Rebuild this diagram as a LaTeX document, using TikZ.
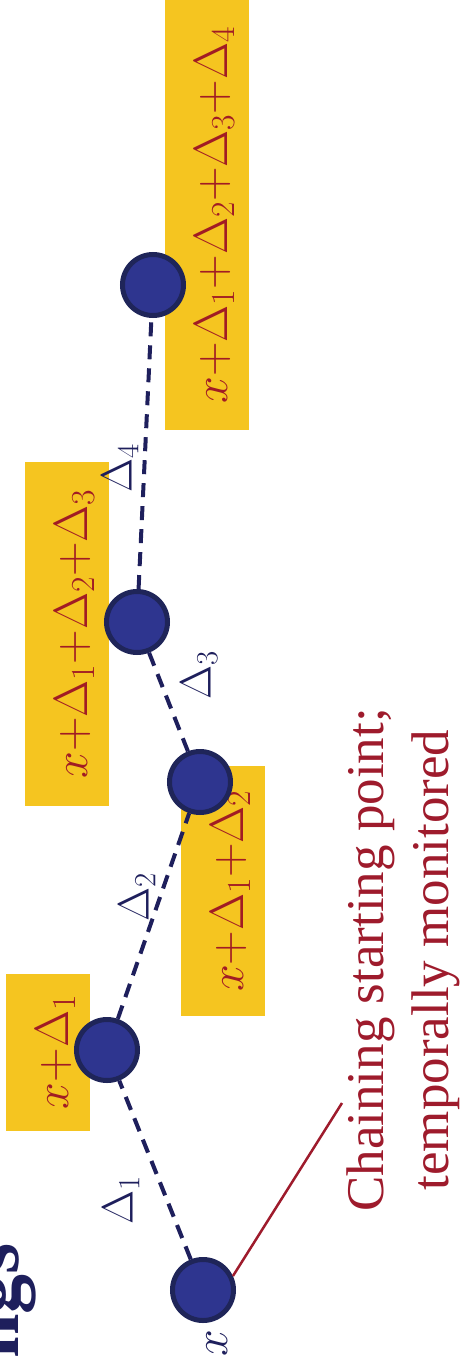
\RequirePackage{fix-cm}
\documentclass[tikz,border=0pt]{standalone}
\usepackage[no-math]{fontspec}
\setmainfont{Liberation Serif}
\definecolor{ybox}{HTML}{F5C520}
\definecolor{rtext}{HTML}{A11C24}
\definecolor{navy}{HTML}{1E1F5C}
\definecolor{dotfill}{HTML}{2E358F}
\definecolor{dotedge}{HTML}{1F2559}
\definecolor{annred}{HTML}{9E1B2C}
\begin{document}
\begin{tikzpicture}[x=1pt,y=-1pt,
  yellowbox/.style={fill=ybox, rotate=90, inner sep=0pt, minimum height=84pt,
    text height=40pt, text depth=0pt, text=rtext, font=\fontsize{48}{48}\selectfont},
  dot/.style={circle, draw=dotedge, fill=dotfill, line width=5pt, minimum size=61pt, inner sep=0pt},
  chain/.style={draw=navy, line width=4pt, dash pattern=on 14pt off 9pt},
  dlabel/.style={rotate=90, text=navy, font=\fontsize{44}{44}\selectfont, inner sep=0pt},
]
\useasboundingbox (0,0) rectangle (461,1367);
\clip (0,0) rectangle (461,1367);

% title fragment
\node[rotate=90, anchor=base east, text=navy, font=\bfseries\fontsize{80}{80}\selectfont, inner sep=0pt] (title) at (18,1243) {ngs};

% yellow value boxes
\node[yellowbox, minimum width=157pt] (b1) at (48,1052) {$x{+}\Delta_1$};
\node[yellowbox, minimum width=250pt] (b2) at (223,891) {$x{+}\Delta_1{+}\Delta_2$};
\node[yellowbox, minimum width=344pt] (b3) at (67,634) {$x{+}\Delta_1{+}\Delta_2{+}\Delta_3$};
\node[yellowbox, minimum width=430pt] (b4) at (207,215) {$x{+}\Delta_1{+}\Delta_2{+}\Delta_3{+}\Delta_4$};

% chain points
\node[dot] (c0) at (203,1290) {};
\node[dot] (c1) at (107,1050) {};
\node[dot] (c2) at (200,782) {};
\node[dot] (c3) at (137,622) {};
\node[dot] (c4) at (153,285) {};

% dashed chain
\draw[chain] (c0) -- (c1);
\draw[chain] (c1) -- (c2);
\draw[chain] (c2) -- (c3);
\draw[chain] (c3) -- (c4);

% increment labels
\node[dlabel] (d1) at (121,1200) {$\Delta_1$};
\node[dlabel] (d2) at (137,897) {$\Delta_2$};
\node[dlabel] (d3) at (199,675) {$\Delta_3$};
\node[dlabel] (d4) at (120,468) {$\Delta_4$};

% start label
\node[rotate=90, anchor=base, text=navy, font=\fontsize{48}{48}\selectfont, inner sep=0pt] (xl) at (227,1343) {$x$};

% annotation
\node[rotate=90, align=center, text=annred, font=\fontsize{53}{65}\selectfont, inner sep=0pt] (ann) at (403,960) {Chaining starting point;\\temporally monitored};
\coordinate (annend) at (342,1103);
\draw[annred, line width=2.5pt] (c0.25) -- (annend);
\end{tikzpicture}
\end{document}
